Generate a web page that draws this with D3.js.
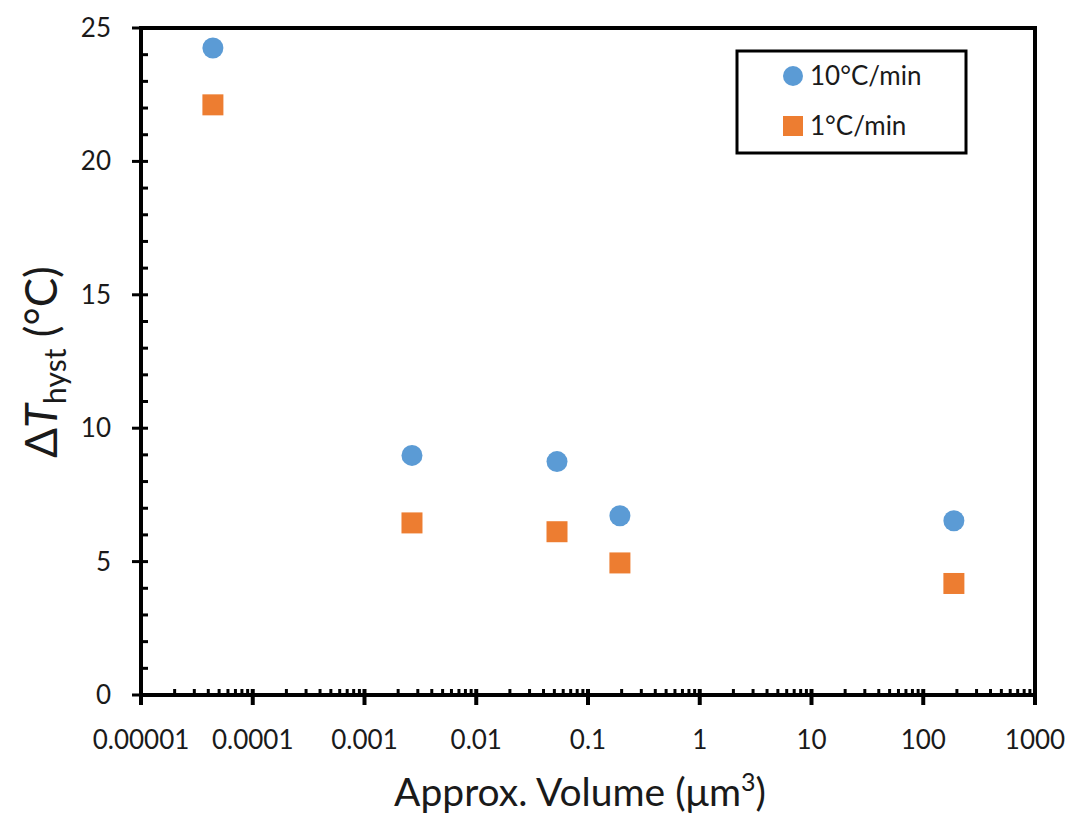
<!DOCTYPE html>
<html><head><meta charset="utf-8">
<script src="https://cdn.jsdelivr.net/npm/d3@7"></script>
<style>body{margin:0;background:#fff}svg{display:block}text{font-family:Lato,"Open Sans",sans-serif;fill:#1a1a1a}</style>
</head><body><svg id="c" width="1070" height="813"></svg>
<script>
const volumes = [4.4e-5, 2.66e-3, 0.0528, 0.193, 188];
const rate10 = [24.25, 8.98, 8.75, 6.72, 6.53];
const rate1 = [22.12, 6.45, 6.12, 4.95, 4.18];
const seriesNames = ["10°C/min", "1°C/min"];
const xTickLabels = ["0.00001","0.0001","0.001","0.01","0.1","1","10","100","1000"];
const yTicks = [0,5,10,15,20,25];

const svg = d3.select("#c");
const L=141, R=1035, T=28, B=695;
const x = d3.scaleLog().domain([1e-5,1e3]).range([L,R]);
const y = d3.scaleLinear().domain([0,25]).range([B,T]);
const g = svg.append("g");

g.append("path").attr("d",`M${L},${T}H${R}V${B}`).attr("fill","none").attr("stroke","#000").attr("stroke-width",4);

const yMinor = d3.range(0,26,1);
g.selectAll(".ym").data(yMinor).join("line")
 .attr("x1",L).attr("x2",L+7).attr("y1",d=>y(d)).attr("y2",d=>y(d)).attr("stroke","#000").attr("stroke-width",3);
g.selectAll(".yM").data(yTicks).join("line")
 .attr("x1",L-9).attr("x2",L).attr("y1",d=>y(d)).attr("y2",d=>y(d)).attr("stroke","#000").attr("stroke-width",3);
g.selectAll(".yl").data(yTicks).join("text")
 .attr("x",111).attr("y",d=>y(d)+9).attr("text-anchor","end").attr("font-size",26).text(d=>d);

const xMinor=[];
for(let e=-5;e<3;e++) for(let k=2;k<=9;k++) xMinor.push(k*Math.pow(10,e));
g.selectAll(".xm").data(xMinor).join("line")
 .attr("x1",d=>x(d)).attr("x2",d=>x(d)).attr("y1",B-6).attr("y2",B).attr("stroke","#000").attr("stroke-width",3);
const xMajor = xTickLabels.map(Number);
g.selectAll(".xM").data(xMajor).join("line")
 .attr("x1",d=>x(d)).attr("x2",d=>x(d)).attr("y1",B-6).attr("y2",B+10).attr("stroke","#000").attr("stroke-width",4);
g.selectAll(".xl").data(xTickLabels).join("text")
 .attr("x",(d)=>x(+d)).attr("y",749).attr("text-anchor","middle").attr("font-size",26).text(d=>d);

g.append("line").attr("x1",L).attr("x2",L).attr("y1",T-2).attr("y2",B+2).attr("stroke","#000").attr("stroke-width",4);
g.append("line").attr("x1",L-2).attr("x2",R+2).attr("y1",B).attr("y2",B).attr("stroke","#000").attr("stroke-width",4);

const blue="#5B9BD5", orange="#ED7D31";
g.selectAll(".c").data(volumes).join("circle")
 .attr("cx",d=>x(d)).attr("cy",(d,i)=>y(rate10[i])).attr("r",10.5).attr("fill",blue);
g.selectAll(".s").data(volumes).join("rect")
 .attr("x",d=>x(d)-10.5).attr("y",(d,i)=>y(rate1[i])-10.5).attr("width",21).attr("height",21).attr("fill",orange);

g.append("rect").attr("x",737).attr("y",51).attr("width",229).attr("height",102).attr("fill","#fff").attr("stroke","#000").attr("stroke-width",3);
g.append("circle").attr("cx",793).attr("cy",76).attr("r",10).attr("fill",blue);
g.append("rect").attr("x",783).attr("y",116).attr("width",20).attr("height",20).attr("fill",orange);
g.append("text").attr("x",810).attr("y",85).attr("font-size",26).text(seriesNames[0]);
g.append("text").attr("x",810).attr("y",135).attr("font-size",26).text(seriesNames[1]);

const yt = g.append("text").attr("transform","translate(57,362) rotate(-90)").attr("text-anchor","middle").attr("font-size",44);
yt.append("tspan").text("Δ");
yt.append("tspan").attr("font-style","italic").text("T");
yt.append("tspan").attr("font-size",30).attr("dy",9).text("hyst");
yt.append("tspan").attr("dy",-9).text(" (°C)");
const xt = g.append("text").attr("x",580).attr("y",806).attr("text-anchor","middle").attr("font-size",39);
xt.append("tspan").text("Approx. Volume (μm");
xt.append("tspan").attr("font-size",25).attr("dy",-15).text("3");
xt.append("tspan").attr("dy",15).text(")");
</script></body></html>
